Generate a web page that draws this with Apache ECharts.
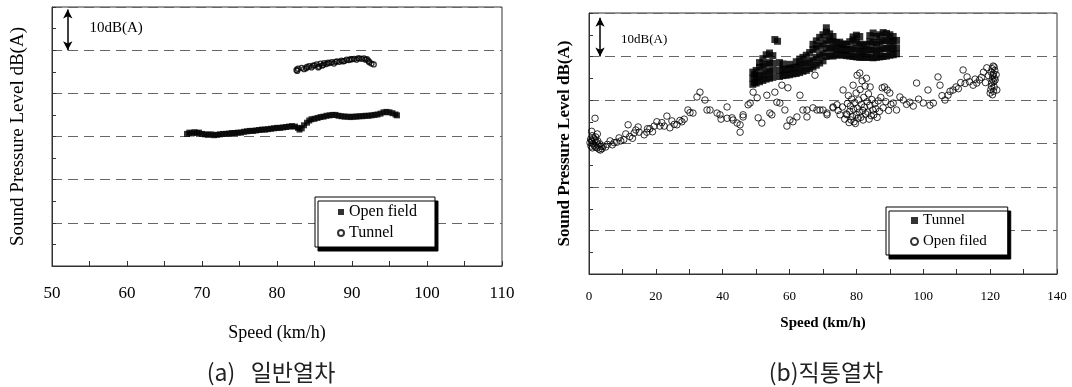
<!DOCTYPE html>
<html><head><meta charset="utf-8">
<script src="https://cdn.jsdelivr.net/npm/echarts/dist/echarts.min.js"></script>
<style>html,body{margin:0;padding:0;background:#fff}#c{width:1072px;height:387px}</style>
</head><body><div id="c"></div>
<script>
// ---------- Panel (a) data: [speed km/h, relative level dB] ----------
const openFieldA = [[68.0,30.6],[68.3,30.9],[68.6,30.7],[69.0,31.0],[69.3,30.8],[69.6,30.9],[70.0,30.6],[70.4,30.5],[70.8,30.4],[71.2,30.5],[71.6,30.3],[72.0,30.4],[72.4,30.5],[72.8,30.6],[73.2,30.6],[73.6,30.7],[74.0,30.8],[74.4,30.8],[74.8,30.9],[75.2,30.9],[75.6,31.1],[76.0,31.2],[76.4,31.3],[76.8,31.3],[77.2,31.4],[77.6,31.5],[78.0,31.6],[78.4,31.6],[78.8,31.7],[79.2,31.8],[79.6,31.9],[80.0,32.0],[80.4,32.0],[80.8,32.1],[81.2,32.2],[81.6,32.3],[82.0,32.4],[82.4,32.3],[82.8,32.0],[83.0,31.6],[83.3,31.9],[83.6,32.6],[84.0,33.2],[84.3,33.7],[84.6,34.0],[85.0,34.1],[85.4,34.3],[85.8,34.5],[86.2,34.6],[86.6,34.8],[87.0,34.9],[87.4,35.0],[87.8,35.0],[88.2,34.8],[88.6,34.7],[89.0,34.6],[89.4,34.6],[89.8,34.5],[90.2,34.6],[90.6,34.6],[91.0,34.7],[91.4,34.7],[91.8,34.8],[92.2,34.8],[92.6,34.9],[93.0,35.0],[93.4,35.1],[93.8,35.3],[94.2,35.6],[94.6,35.7],[95.0,35.6],[95.4,35.4],[95.8,35.1],[96.0,34.9]];
const tunnelA = [[82.6,45.4],[82.7,45.2],[82.8,45.7],[83.3,45.9],[83.6,45.6],[83.9,45.8],[84.0,46.1],[84.3,46.3],[84.6,46.0],[84.8,46.4],[85.0,46.5],[85.3,46.7],[85.5,46.0],[85.6,46.2],[85.8,46.9],[86.0,46.4],[86.2,46.6],[86.3,47.0],[86.6,46.8],[86.8,47.1],[87.0,47.0],[87.3,47.2],[87.6,46.9],[87.8,47.3],[88.0,47.4],[88.3,47.3],[88.6,47.6],[88.8,47.4],[89.0,47.5],[89.3,47.8],[89.6,47.7],[89.8,47.9],[90.0,47.9],[90.3,48.0],[90.6,47.8],[90.8,48.1],[91.0,48.1],[91.3,48.0],[91.6,48.1],[91.8,47.8],[92.0,47.9],[92.2,47.5],[92.3,47.2],[92.6,46.9],[92.9,46.7]];

// ---------- Panel (b) data ----------
const tunnelB = [[49,43.6],[49,45.0],[49,46.4],[49.5,44.0],[49.5,45.8],[50,43.9],[50,45.2],[50,46.8],[51,44.2],[51,45.6],[51,47.5],[51,48.6],[52,44.5],[52,46.0],[52,47.8],[52,49.5],[53,44.8],[53,46.4],[53,48.2],[53,50.4],[54,45.0],[54,46.6],[54,48.6],[54,50.8],[55,45.2],[55,46.8],[55,48.4],[55,50.2],[55.6,53.9],[56.4,53.5],[57,45.4],[57,46.9],[57,48.6],[58,45.6],[58,47.0],[58,48.3],[59,45.7],[59,47.1],[60,45.8],[60,47.3],[60,48.2],[61,46.0],[61,47.4],[62,46.1],[62,47.6],[62,48.8],[63,46.3],[63,47.9],[63,49.4],[64,46.6],[64,48.2],[64,49.8],[65,46.8],[65,48.5],[65,50.3],[66,47.2],[66,48.8],[66,50.9],[67,47.6],[67,49.2],[67,51.6],[67,52.8],[68,48.0],[68,49.8],[68,51.9],[68,53.6],[69,48.5],[69,50.3],[69,52.4],[69,54.4],[70,49.0],[70,50.8],[70,52.9],[70,55.0],[71,50.0],[71,51.8],[71,53.6],[71,55.6],[71,56.6],[72,50.2],[72,52.0],[72,53.8],[72,55.2],[73,50.1],[73,51.8],[73,53.4],[73,54.6],[74,50.3],[74,51.7],[74,53.2],[75,50.4],[75,51.9],[75,53.3],[76,50.3],[76,51.6],[76,52.9],[77,50.2],[77,51.5],[77,52.8],[78,50.1],[78,51.6],[78,53.4],[79,50.0],[79,51.8],[79,53.8],[79,54.5],[80,49.9],[80,51.5],[80,53.2],[80,54.9],[81,49.8],[81,51.3],[81,52.9],[81,54.6],[82,49.8],[82,51.2],[82,52.6],[83,49.8],[83,51.3],[83,52.8],[84,49.8],[84,51.6],[84,53.4],[84,54.8],[85,49.7],[85,51.4],[85,53.2],[85,55.4],[86,49.8],[86,51.3],[86,52.9],[86,54.6],[87,49.9],[87,51.5],[87,53.3],[87,55.0],[88,50.0],[88,51.8],[88,53.6],[88,55.5],[89,50.1],[89,51.9],[89,53.7],[89,55.3],[90,50.3],[90,51.8],[90,53.4],[90,55.0],[91,50.4],[91,51.9],[91,53.5],[91,54.6],[92,50.6],[92,52.0],[92,53.7]];
const openFiledB = [[0.3,30.2],[0.5,31.0],[0.6,29.4],[0.8,30.6],[1.0,31.8],[1.0,29.0],[1.2,30.0],[1.4,31.2],[1.5,29.6],[1.7,30.8],[1.9,29.2],[2.0,31.5],[2.2,30.3],[2.4,29.0],[2.6,30.6],[2.8,29.6],[3.0,28.7],[3.2,29.9],[3.4,28.5],[3.6,29.3],[3.9,28.8],[4.2,29.4],[1.8,35.8],[0.8,32.8],[2.5,32.2],
[5.0,29.2],[5.5,29.8],[6.3,30.6],[7.0,29.7],[7.5,30.2],[8.3,30.3],[9.0,31.3],[9.5,30.6],[10.4,30.9],[11.0,32.2],[11.7,34.3],[12.2,31.6],[13.0,31.2],[13.5,32.4],[14.0,33.1],[14.7,33.8],[15.0,32.6],[16.5,32.0],[17.3,32.6],[17.5,33.4],[18.2,33.4],[19.0,32.7],[19.5,34.0],[20.3,35.0],[21.2,34.0],[21.8,34.8],[22.5,34.0],[23.3,36.3],[24.2,33.6],[24.8,35.2],[25.5,34.4],[26.3,34.3],[27.2,35.3],[27.8,35.0],[28.5,35.6],[29.6,37.7],[30.2,37.1],[31.1,37.0],
[32.3,40.7],[33.2,41.8],[34.7,40.0],[35.3,37.7],[36.2,37.7],[38.3,37.0],[39.2,36.6],[39.5,35.6],[41.3,38.4],[41.3,35.8],[42.8,35.9],[43.1,35.4],[44.3,34.7],[45.2,32.6],[46.1,36.1],[46.1,36.6],[45.2,34.3],[47.6,38.9],[48.2,39.3],[49.1,41.8],[50.3,40.5],[50.6,35.9],[51.7,34.7],[53.2,41.1],[54.1,37.0],[54.7,36.6],[55.6,41.8],[56.2,39.5],[57.1,39.3],[57.7,43.4],[58.6,37.7],[59.5,42.8],[59.2,34.0],[60.1,35.4],[61.0,35.0],[62.2,36.1],[63.1,41.1],[64.0,37.7],[65.2,36.1],[65.2,37.7],[67.0,38.2],[67.6,45.7],[68.2,37.7],[69.1,37.7],[70.0,37.7],[71.2,37.0],[71.2,36.6],[73.0,38.2],[73.0,38.4],[74.2,38.9],[75.1,36.6],[76.0,42.3],[77.2,36.6],
[74.5,37.6],[75.8,38.4],[76.5,35.6],[77.0,36.8],[77.3,39.2],[77.6,41.0],[77.8,34.8],[78.0,37.4],[78.2,38.6],[78.4,35.4],[78.6,40.2],[78.8,36.2],[79.0,43.4],[79.1,37.9],[79.3,35.0],[79.5,39.4],[79.7,34.6],[79.9,41.6],[80.0,36.6],[80.2,45.7],[80.3,38.1],[80.5,35.8],[80.7,40.0],[80.9,37.2],[81.0,46.2],[81.1,42.4],[81.3,36.0],[81.5,39.0],[81.7,44.4],[81.9,37.6],[82.0,35.4],[82.2,40.6],[82.4,38.4],[82.6,43.2],[82.8,36.8],[83.0,45.0],[83.2,39.6],[83.4,37.2],[83.6,41.4],[83.8,35.6],[84.0,38.8],[84.1,43.0],[84.4,36.4],[84.6,40.1],[84.9,37.7],[85.2,36.6],[85.5,39.2],[85.8,38.0],[86.2,36.0],[86.5,39.8],[86.9,37.4],[87.3,40.6],[87.7,42.8],[88.0,38.2],[88.4,43.0],[88.8,39.6],[89.2,42.3],[89.6,37.6],[90.0,41.6],[90.3,39.0],
[91.0,39.3],[92.0,37.7],[93.0,40.7],[94.0,40.0],[95.0,39.0],[96.0,39.5],[97.0,38.6],[98.0,43.9],[98.6,40.2],[100.0,39.3],[101.4,42.3],[102.0,38.8],[103.0,39.3],[104.4,45.3],[105.0,43.4],[105.6,41.0],[106.5,40.0],[107.4,41.1],[108.0,42.0],[108.9,42.3],[109.8,43.0],[110.5,42.6],[111.2,44.0],[111.9,46.9],[112.5,43.8],[113.1,45.3],[113.8,44.2],[114.9,43.4],[115.5,44.8],[116.0,43.9],[116.8,44.6],[117.4,45.2],[118.0,46.4],[118.6,44.0],[119.0,47.4],[119.5,45.6],
[120.0,41.6],[120.2,42.4],[120.4,43.2],[120.5,44.0],[120.6,44.8],[120.8,45.6],[120.3,46.4],[120.6,47.2],[120.9,47.8],[121.0,42.0],[121.2,43.0],[121.1,44.2],[121.3,45.0],[121.0,46.0],[121.4,46.8],[120.7,41.2],[121.2,47.6],[121.5,44.6],[122.0,42.3],[121.8,45.8]];

// ---------- annotations (data space) ----------
const arrowA = [[52.1, 59.4], [52.1, 50]];
const noteA = [55.0, 55.2];
const arrowB = [[3.3, 58.9], [3.3, 50]];
const noteB = [9.6, 54.0];
const noteText = '10dB(A)';
const captions = ['(a)   일반열차', '(b)직통열차'];
const yTitle = 'Sound Pressure Level dB(A)';
const xTitle = 'Speed (km/h)';

const serif = 'Liberation Serif';
const axisCol = '#333';
const gridLine = {show: true, lineStyle: {color: '#666', type: [10, 6], width: 1}};

function xAxisCfg(gi, min, max, interval, fs, margin, nameGap, nameFs, bold) {
  return {
    gridIndex: gi, type: 'value', min: min, max: max, interval: interval,
    splitLine: {show: false},
    axisLine: {show: true, onZero: false, lineStyle: {color: axisCol, width: 1}},
    axisTick: {show: true, inside: true, length: 5, lineStyle: {color: axisCol}},
    minorTick: {show: true, splitNumber: 2, length: 5, lineStyle: {color: axisCol}},
    axisLabel: {margin: margin, fontFamily: serif, fontSize: fs, color: '#000',
      formatter: function (v) { return '{t|' + v + '}'; },
      rich: {t: {fontFamily: serif, fontSize: fs, color: '#000'}}},
    name: xTitle, nameLocation: 'middle', nameGap: nameGap, nameMoveOverlap: false,
    nameTextStyle: {fontFamily: serif, fontSize: nameFs, color: '#000', fontWeight: bold ? 'bold' : 'normal'}
  };
}
function yAxisCfg(gi, nameGap, nameFs, bold) {
  return {
    gridIndex: gi, type: 'value', min: 0, max: 60, interval: 10,
    axisLabel: {show: false},
    axisLine: {show: true, onZero: false, lineStyle: {color: axisCol, width: 1}},
    axisTick: {show: true, inside: true, length: 4, lineStyle: {color: axisCol}},
    minorTick: {show: true, splitNumber: 2, length: 4, lineStyle: {color: axisCol}},
    splitLine: gridLine,
    name: yTitle, nameLocation: 'middle', nameRotate: 90, nameGap: nameGap, nameMoveOverlap: false,
    nameTextStyle: {fontFamily: serif, fontSize: nameFs, color: '#000', fontWeight: bold ? 'bold' : 'normal'}
  };
}
function arrowLine(pts) {
  return {
    silent: true, symbol: ['arrow', 'arrow'], symbolSize: [7, 9],
    lineStyle: {color: '#000', width: 1.5, type: 'solid'},
    label: {show: false}, emphasis: {disabled: true},
    data: [[{coord: pts[0]}, {coord: pts[1]}]]
  };
}
function notePoint(pt, fs) {
  return {
    silent: true, symbol: 'circle', symbolSize: 0,
    label: {show: true, position: 'right', distance: 0, formatter: noteText, fontFamily: serif, fontSize: fs, color: '#000'},
    data: [{coord: pt}]
  };
}
const legendBase = {
  orient: 'vertical', selectedMode: false, backgroundColor: '#fff',
  borderColor: '#000', borderWidth: 1,
  shadowColor: '#000', shadowBlur: 0, shadowOffsetX: 3, shadowOffsetY: 4
};

const chart = echarts.init(document.getElementById('c'), null, {renderer: 'canvas'});
chart.setOption({
  animation: false,
  backgroundColor: '#fff',
  textStyle: {fontFamily: serif},
  title: [
    {text: captions[0], left: 266, top: 356, textAlign: 'center',
     textStyle: {fontFamily: 'Noto Sans CJK KR', fontSize: 23, fontWeight: 'normal', color: '#222'}},
    {text: captions[1], left: 821, top: 356, textAlign: 'center',
     textStyle: {fontFamily: 'Noto Sans CJK KR', fontSize: 23, fontWeight: 'normal', color: '#222'}}
  ],
  grid: [
    {left: 52, top: 7, width: 450, height: 259, show: true, borderColor: axisCol, borderWidth: 1, containLabel: false, outerBoundsMode: 'none'},
    {left: 589, top: 13, width: 468, height: 261, show: true, borderColor: axisCol, borderWidth: 1, containLabel: false, outerBoundsMode: 'none'}
  ],
  xAxis: [
    xAxisCfg(0, 50, 110, 10, 17, 19, 58, 18, false),
    xAxisCfg(1, 0, 140, 20, 13, 16, 42, 15, true)
  ],
  yAxis: [
    yAxisCfg(0, 24, 19, false),
    yAxisCfg(1, 16, 17, true)
  ],
  legend: [
    Object.assign({}, legendBase, {
      data: [{name: 'Open field', icon: 'rect'}, {name: 'Tunnel', icon: 'circle'}],
      left: 315, top: 197, padding: [7, 18, 6, 22], itemGap: 5,
      itemWidth: 6, itemHeight: 6, itemTextGap: 8,
      textStyle: {fontFamily: serif, fontSize: 16, color: '#000'}
    }),
    Object.assign({}, legendBase, {
      data: [{name: 'Tunnel (b)', icon: 'rect'}, {name: 'Open filed', icon: 'circle'}],
      formatter: function (n) { return n.replace(' (b)', ''); },
      left: 886, top: 207, padding: [6, 21, 6, 24], itemGap: 6,
      itemWidth: 7, itemHeight: 7, itemTextGap: 6,
      textStyle: {fontFamily: serif, fontSize: 15, color: '#000'}
    })
  ],
  series: [
    {name: 'Open field', type: 'scatter', xAxisIndex: 0, yAxisIndex: 0, data: openFieldA,
     symbol: 'rect', symbolSize: 6, itemStyle: {color: '#000'}, silent: true,
     markLine: arrowLine(arrowA), markPoint: notePoint(noteA, 15)},
    {name: 'Tunnel', type: 'scatter', xAxisIndex: 0, yAxisIndex: 0, data: tunnelA,
     symbol: 'circle', symbolSize: 5, silent: true,
     itemStyle: {color: 'rgba(255,255,255,0)', borderColor: '#000', borderWidth: 1.3}},
    {name: 'Tunnel (b)', type: 'scatter', xAxisIndex: 1, yAxisIndex: 1, data: tunnelB,
     symbol: 'rect', symbolSize: 7, itemStyle: {color: '#000'}, silent: true,
     markLine: arrowLine(arrowB), markPoint: notePoint(noteB, 13)},
    {name: 'Open filed', type: 'scatter', xAxisIndex: 1, yAxisIndex: 1, data: openFiledB,
     symbol: 'circle', symbolSize: 6.5, silent: true,
     itemStyle: {color: 'rgba(255,255,255,0)', borderColor: '#000', borderWidth: 1}}
  ]
});
</script></body></html>
